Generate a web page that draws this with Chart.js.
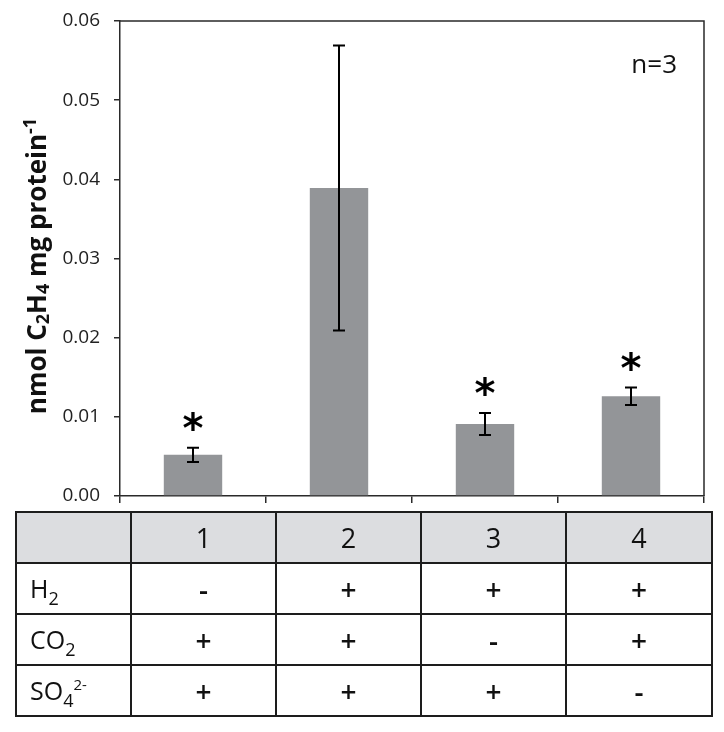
<!DOCTYPE html>
<html>
<head>
<meta charset="utf-8">
<script src="https://cdn.jsdelivr.net/npm/chart.js@4.4.0/dist/chart.umd.min.js"></script>
<style>
  body { margin: 0; background: #fff; }
  #wrap { position: relative; width: 724px; height: 732px; }
  #chart { position: absolute; left: 0; top: 0; }
  #conditions {
    position: absolute; left: 15px; top: 511px;
    border-collapse: collapse;
    font-family: "Open Sans", sans-serif; font-size: 28px; color: #111;
  }
  #conditions td { border: 2px solid #1d1d1d; height: 49px; padding: 0; text-align: center; line-height: 1; font-weight: 600; }
  #conditions td.lbl { text-align: left; padding-left: 13px; font-size: 25px; font-weight: 400; }
  #conditions tr.head td { background: #dcdde0; font-size: 27px; font-weight: 400; }
  #conditions sub { font-size: 18px; vertical-align: -7px; line-height: 0; }
  #conditions sup { font-size: 15px; vertical-align: 10px; line-height: 0; }
</style>
</head>
<body>
<div id="wrap">
  <canvas id="chart" width="724" height="522"></canvas>
  <table id="conditions"></table>
</div>
<script>
const categories = ["1", "2", "3", "4"];
const means = [0.0052, 0.0389, 0.0091, 0.0126];
const errors = [0.0009, 0.0180, 0.0014, 0.0011];
const significant = [true, false, true, true];
const yTicks = [0, 0.01, 0.02, 0.03, 0.04, 0.05, 0.06];

const rowLabels = ["H<sub>2</sub>", "CO<sub>2</sub>", "SO<sub>4</sub><sup>2-</sup>"];
const h2 = ["-", "+", "+", "+"];
const co2 = ["+", "+", "-", "+"];
const so4 = ["+", "+", "+", "-"];

// table under the chart
const table = document.getElementById("conditions");
const colW = [113, 143, 143, 143, 144];
let html = '<tr class="head"><td style="width:' + colW[0] + 'px"></td>';
categories.forEach((c, i) => { html += '<td style="width:' + colW[i + 1] + 'px">' + c + '</td>'; });
html += '</tr>';
[h2, co2, so4].forEach((row, r) => {
  html += '<tr><td class="lbl">' + rowLabels[r] + '</td>';
  row.forEach(v => { html += '<td>' + v + '</td>'; });
  html += '</tr>';
});
table.innerHTML = html;

const axisColor = "#2a2a2a";

const extras = {
  id: "extras",
  afterDatasetsDraw(chart) {
    const ctx = chart.ctx;
    const y = chart.scales.y;
    const area = chart.chartArea;
    const meta = chart.getDatasetMeta(0);
    ctx.save();
    // box top + right
    ctx.strokeStyle = axisColor;
    ctx.lineWidth = 1.5;
    ctx.beginPath();
    ctx.moveTo(area.left, area.top);
    ctx.lineTo(area.right, area.top);
    ctx.lineTo(area.right, area.bottom);
    ctx.stroke();

    // error bars + asterisks
    meta.data.forEach((bar, i) => {
      const x = bar.x;
      const top = y.getPixelForValue(means[i] + errors[i]);
      const bot = y.getPixelForValue(means[i] - errors[i]);
      ctx.strokeStyle = "#000";
      ctx.lineWidth = 2;
      ctx.beginPath();
      ctx.moveTo(x, top); ctx.lineTo(x, bot);
      ctx.moveTo(x - 6, top); ctx.lineTo(x + 6, top);
      ctx.moveTo(x - 6, bot); ctx.lineTo(x + 6, bot);
      ctx.stroke();
      if (significant[i]) {
        ctx.font = "bold 40px 'DejaVu Sans'";
        ctx.fillStyle = "#000";
        ctx.textAlign = "center";
        ctx.textBaseline = "alphabetic";
        const m = ctx.measureText("*");
        const cy = top - 27;
        ctx.fillText("*", x, cy + (m.actualBoundingBoxAscent - m.actualBoundingBoxDescent) / 2);
      }
    });

    // n=3
    ctx.font = "26px 'Open Sans'";
    ctx.fillStyle = "#111";
    ctx.textAlign = "right";
    ctx.textBaseline = "middle";
    ctx.fillText("n=3", 677, 66);

    // y-axis title with sub/superscripts
    const parts = [
      { t: "nmol C", s: 0 }, { t: "2", s: 1 }, { t: "H", s: 0 }, { t: "4", s: 1 },
      { t: " mg protein", s: 0 }, { t: "-1", s: 2 }
    ];
    const big = "bold 26px 'Open Sans'";
    const small = "bold 18px 'Open Sans'";
    let total = 0;
    parts.forEach(p => { ctx.font = p.s ? small : big; p.w = ctx.measureText(p.t).width; total += p.w; });
    ctx.translate(46, 266);
    ctx.rotate(-Math.PI / 2);
    ctx.textAlign = "left";
    ctx.textBaseline = "alphabetic";
    let cx = -total / 2;
    parts.forEach(p => {
      ctx.font = p.s ? small : big;
      const dy = p.s === 1 ? 3 : (p.s === 2 ? -10 : 0);
      ctx.fillText(p.t, cx, dy);
      cx += p.w;
    });
    ctx.restore();
  }
};

new Chart(document.getElementById("chart"), {
  type: "bar",
  data: {
    labels: categories,
    datasets: [{
      data: means,
      backgroundColor: "#939598",
      borderWidth: 0,
      categoryPercentage: 1,
      barPercentage: 0.4
    }]
  },
  options: {
    responsive: false,
    animation: false,
    devicePixelRatio: 1,
    layout: { padding: { left: 0, top: 21, right: 20, bottom: 12 } },
    plugins: { legend: { display: false }, tooltip: { enabled: false } },
    scales: {
      x: {
        grid: { display: true, drawOnChartArea: false, offset: true, color: axisColor, lineWidth: 1.5, tickLength: 7 },
        border: { color: axisColor, width: 1.5 },
        ticks: { display: false },
        afterFit: s => { s.height = 14; }
      },
      y: {
        min: 0, max: 0.06,
        afterBuildTicks: s => { s.ticks = yTicks.map(v => ({ value: v })); },
        grid: { drawOnChartArea: false, color: axisColor, lineWidth: 1.5, tickLength: 6 },
        border: { color: axisColor, width: 1.5 },
        ticks: {
          padding: 14,
          color: "#222",
          font: { family: "Open Sans", size: 19 },
          callback: v => v.toFixed(2)
        },
        afterFit: s => { s.width = 120; s.paddingTop = 0; s.paddingBottom = 0; }
      }
    }
  },
  plugins: [extras]
});
</script>
</body>
</html>
